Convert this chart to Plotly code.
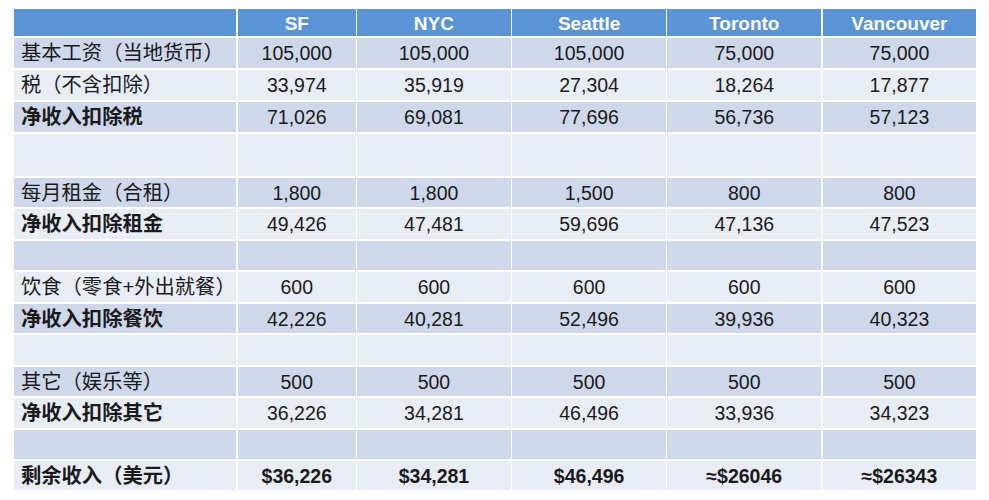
import plotly.graph_objects as go

cities = ["SF", "NYC", "Seattle", "Toronto", "Vancouver"]
row_labels = ["基本工资（当地货币）", "税（不含扣除）", "净收入扣除税", "",
              "每月租金（合租）", "净收入扣除租金", "",
              "饮食（零食+外出就餐）", "净收入扣除餐饮", "",
              "其它（娱乐等）", "净收入扣除其它", "",
              "剩余收入（美元）"]
sf = ["105,000", "33,974", "71,026", "", "1,800", "49,426", "", "600", "42,226", "", "500", "36,226", "", "$36,226"]
nyc = ["105,000", "35,919", "69,081", "", "1,800", "47,481", "", "600", "40,281", "", "500", "34,281", "", "$34,281"]
seattle = ["105,000", "27,304", "77,696", "", "1,500", "59,696", "", "600", "52,496", "", "500", "46,496", "", "$46,496"]
toronto = ["75,000", "18,264", "56,736", "", "800", "47,136", "", "600", "39,936", "", "500", "33,936", "", "≈$26046"]
vancouver = ["75,000", "17,877", "57,123", "", "800", "47,523", "", "600", "40,323", "", "500", "34,323", "", "≈$26343"]

bold_label_rows = [2, 5, 8, 11, 13]
bold_all_rows = [13]

# ---- styling / layout constants (not data) ----
DARK = "#cfd8ea"
LIGHT = "#e8ecf5"
HEADER = "#5a94d6"
FONT = "Liberation Sans, Arial, Noto Sans CJK SC"
TEXT = "#1a1a1a"
COLW = [224, 119, 155, 155, 155, 155]
HEADER_H = 29
ROW_H = [32, 32, 32, 44, 31, 32, 31, 32, 31, 32, 31, 32, 31, 31]

# the page body has an 8px margin; size the figure to fit inside the window
W, H = 973, 484
X0, X1 = 5, 969  # table left/right in figure pixels

value_cols = [sf, nyc, seattle, toronto, vancouver]


def ydom(top, h):
    return [1 - (top + h) / H, 1 - top / H]


traces = []
# header row
traces.append(go.Table(
    domain=dict(x=[X0 / W, X1 / W], y=ydom(0, HEADER_H)),
    columnwidth=COLW,
    header=dict(
        values=[""] + cities,
        fill_color=HEADER,
        line=dict(color="white", width=1.5),
        font=dict(family=FONT, size=19, color="white", weight="bold"),
        align="center",
        height=HEADER_H,
    ),
    cells=dict(values=[]),
))

top = HEADER_H
for i, label in enumerate(row_labels):
    vals = [label] + [c[i] for c in value_cols]
    w_label = "bold" if i in bold_label_rows else "normal"
    w_val = "bold" if i in bold_all_rows else "normal"
    traces.append(go.Table(
        domain=dict(x=[X0 / W, X1 / W], y=ydom(top, ROW_H[i])),
        columnwidth=COLW,
        header=dict(
            values=vals,
            fill_color=DARK if i % 2 == 0 else LIGHT,
            line=dict(color="white", width=1.5),
            font=dict(family=FONT, size=[20.3] + [19.5] * 5, color=TEXT,
                      weight=[w_label] + [w_val] * 5),
            align=["left"] + ["center"] * 5,
            height=ROW_H[i],
        ),
        cells=dict(values=[]),
    ))
    top += ROW_H[i]

fig = go.Figure(traces)
fig.update_layout(
    width=W, height=H,
    margin=dict(l=0, r=0, t=0, b=0),
    paper_bgcolor="white",
)

fig.write_html("out.html")
